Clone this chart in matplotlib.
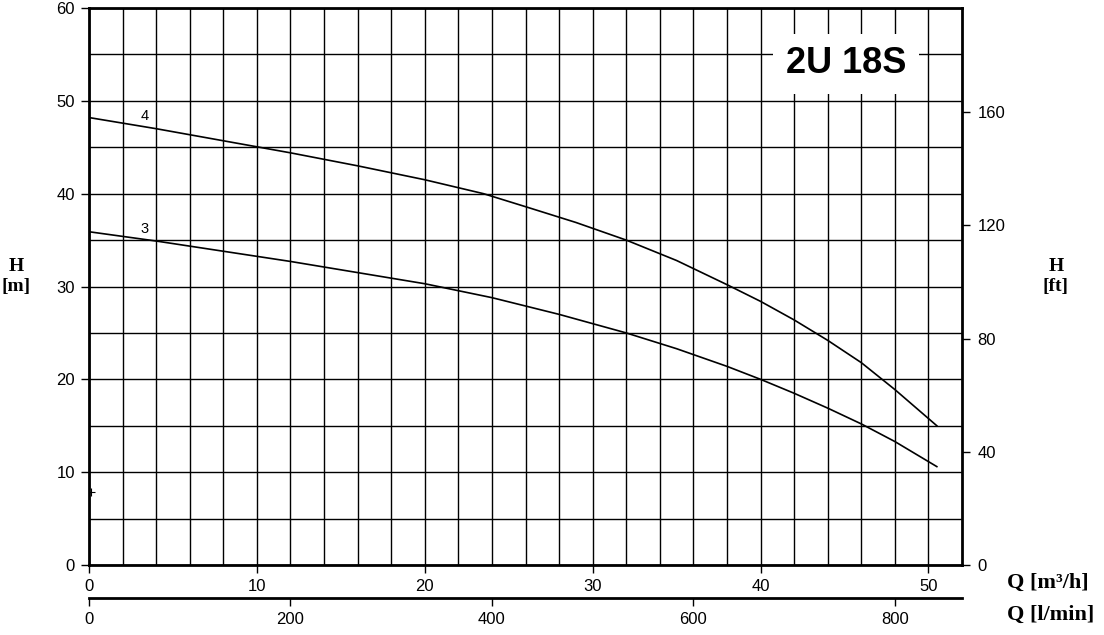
import numpy as np
import matplotlib.pyplot as plt

# pump curves: Q [m3/h] -> H [m]
q4 = [0, 4, 8, 12, 16, 20, 23.5, 26, 29, 32, 35, 38, 40, 42, 44, 46, 48, 50.5]
h4 = [48.2, 47.0, 45.7, 44.4, 43.0, 41.5, 40.0, 38.6, 36.9, 35.0, 32.8, 30.2, 28.4, 26.4, 24.2, 21.8, 18.9, 15.0]
q3 = [0, 4, 8, 12, 16, 20, 24, 28, 32, 35, 38, 40, 42, 44, 46, 48, 50.5]
h3 = [35.9, 34.9, 33.8, 32.7, 31.5, 30.3, 28.8, 27.0, 25.0, 23.3, 21.4, 20.0, 18.5, 16.9, 15.2, 13.3, 10.6]
curve_labels = ["4", "3"]
label_q = [3.3, 3.3]
label_h = [48.4, 36.2]
title = "2U 18S"

QMAX = 52.0
HMAX = 60.0
M2FT = 3.2808
M3H2LMIN = 1000 / 60

fig = plt.figure(figsize=(11.04, 6.35), dpi=100)
ax = fig.add_axes([0.0806, 0.1102, 0.7908, 0.8772])

ax.set_xlim(0, QMAX)
ax.set_ylim(0, HMAX)
ax.set_xticks(np.arange(0, QMAX, 2), minor=True)
ax.set_yticks(np.arange(0, HMAX + 1, 5), minor=True)
ax.set_xticks([0, 10, 20, 30, 40, 50])
ax.set_yticks([0, 10, 20, 30, 40, 50, 60])
ax.grid(which="both", color="black", lw=1.0)
ax.tick_params(which="minor", length=0)
ax.tick_params(which="major", length=6, width=1, direction="out", labelsize=12, pad=4)
for s in ax.spines.values():
    s.set_linewidth(2)

ax.plot(q4, h4, color="black", lw=1.2)
ax.plot(q3, h3, color="black", lw=1.2)
for t, x, y in zip(curve_labels, label_q, label_h):
    ax.text(x, y, t, fontsize=10.5, ha="center", va="center", family="Liberation Sans")
ax.plot([0.12], [7.9], marker="+", color="black", ms=6, mew=0.8)

ax.text(45.1, 54.0, title, fontsize=26, fontweight="bold", ha="center", va="center",
        family="Liberation Sans",
        bbox=dict(boxstyle="square,pad=0.35", fc="white", ec="none"))

# right axis in feet
axr = ax.twinx()
axr.set_ylim(0, HMAX * M2FT)
axr.set_yticks([0, 40, 80, 120, 160])
axr.tick_params(length=6, width=1, labelsize=12, pad=5)
for s in axr.spines.values():
    s.set_visible(False)

# second bottom axis in l/min
axb = ax.twiny()
axb.set_xlim(0, QMAX * M3H2LMIN)
axb.set_xticks([0, 200, 400, 600, 800])
axb.xaxis.set_ticks_position("bottom")
axb.xaxis.set_label_position("bottom")
for k in ["top", "left", "right"]:
    axb.spines[k].set_visible(False)
axb.spines["bottom"].set_position(("outward", 24))
axb.spines["bottom"].set_linewidth(2)
axb.tick_params(length=6, width=1, labelsize=12, pad=4)

for a in (ax, axr, axb):
    for lab in a.get_xticklabels() + a.get_yticklabels():
        lab.set_family("Liberation Sans")

serif = dict(family="Liberation Serif", fontweight="bold", fontsize=14)
fig.text(0.0145, 0.565, "H\n[m]", ha="center", va="center", linespacing=1.2, **serif)
fig.text(0.9565, 0.565, "H\n[ft]", ha="center", va="center", linespacing=1.2, **serif)
q_style = dict(family="Liberation Serif", fontweight="bold", fontsize=16)
fig.text(0.912, 0.082, "Q [m³/h]", ha="left", va="center", **q_style)
fig.text(0.912, 0.032, "Q [l/min]", ha="left", va="center", **q_style)

fig.savefig("out.png", dpi=100)
